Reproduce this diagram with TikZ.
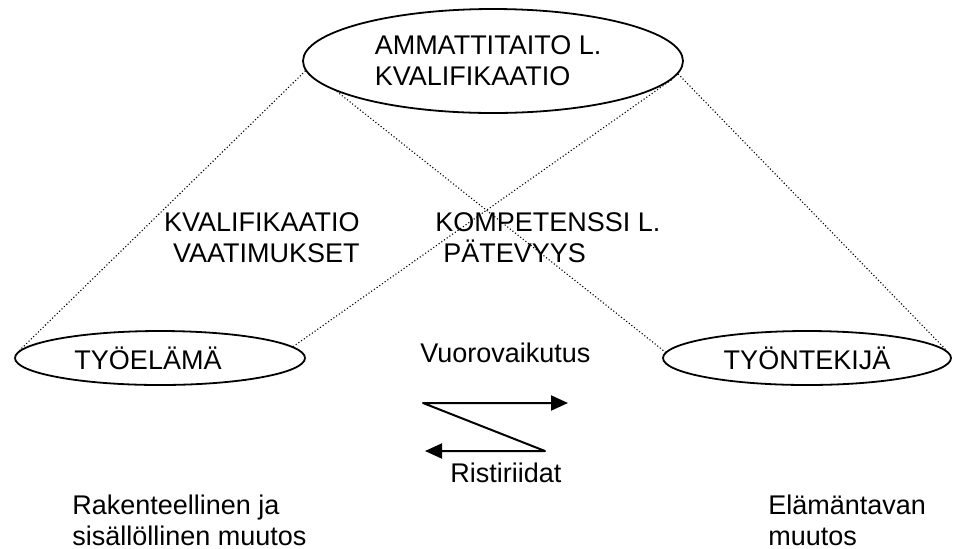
\documentclass[tikz,border=0pt]{standalone}
\usepackage{fontspec}
\setmainfont{Liberation Sans}
\usetikzlibrary{shapes.geometric,arrows.meta,positioning}
\pgfdeclarelayer{back}
\pgfsetlayers{back,main}
\tikzset{
  oval/.style={draw,ellipse,line width=0.9pt,fill=white,inner sep=0pt,align=left},
  link/.style={dash pattern=on 0.55pt off 1.1pt,line width=0.55pt},
  lbl/.style={inner sep=0pt},
  flow/.style={line width=1pt,line join=round,
    {Triangle[length=8.5pt,width=7.5pt]}-{Triangle[length=8.5pt,width=7.5pt]}},
}

\begin{document}
\begin{tikzpicture}[x=0.5pt,y=-0.5pt,font=\fontsize{13.5}{15.5}\selectfont]
  \useasboundingbox (0,0) rectangle (953,548);
  % the three ovals
  \node[oval,minimum width=190pt,minimum height=52pt] (skill) at (493,61) {AMMATTITAITO L.\hspace*{5pt}\\KVALIFIKAATIO};
  \node[oval,minimum width=145pt,minimum height=27pt] (work) at (160,358) {TYÖELÄMÄ\hspace*{12pt}};
  \node[oval,minimum width=144pt,minimum height=27pt] (worker) at (807,358) {TYÖNTEKIJÄ};
  % dotted links, behind the ovals
  \begin{pgfonlayer}{back}
    \draw[link] (skill.183) -- (work.177);
    \draw[link] (skill.191) -- (worker.189.5);
    \draw[link] (skill.354.3) -- (work.345.8);
    \draw[link] (skill.356) -- (worker.3);
  \end{pgfonlayer}
  % labels between the links
  \node[lbl,align=right,anchor=base east] (demand) at (360,262) {KVALIFIKAATIO\\VAATIMUKSET};
  \node[lbl,align=left,anchor=base west] (compet) at (435,262) {KOMPETENSSI L.\\\hspace*{4pt}PÄTEVYYS};
  % interaction arrows
  \node[lbl,anchor=base west] (inter) at (420,362) {Vuorovaikutus};
  \coordinate (fwdS) at (423,403);
  \coordinate (fwdE) at (568,403);
  \coordinate (backS) at (545,451);
  \coordinate (backE) at (425,451);
  \draw[flow] (fwdE) -- (fwdS) -- (backS) -- (backE);
  \node[lbl,anchor=base west] (confl) at (450,482) {Ristiriidat};
  % changes at the bottom
  \node[lbl,align=left,anchor=base west] (struct) at (72,545) {Rakenteellinen ja\\sisällöllinen muutos};
  \node[lbl,align=left,anchor=base west] (life) at (768,545) {Elämäntavan\\muutos};
\end{tikzpicture}
\end{document}
